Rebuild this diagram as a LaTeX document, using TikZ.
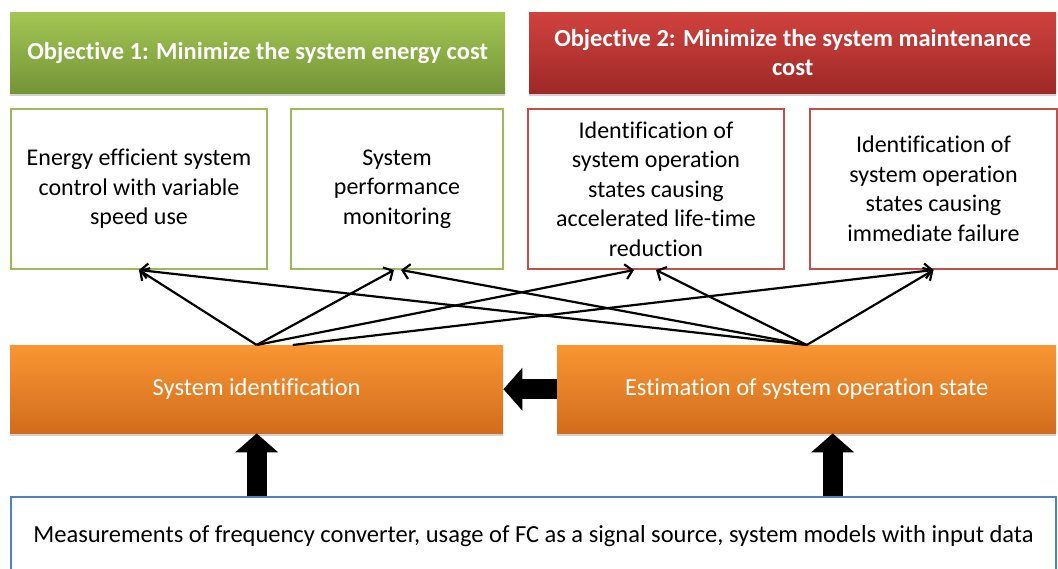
\documentclass[tikz,border=0pt]{standalone}
\usepackage{fontspec}
\setmainfont{Carlito}[Ligatures=NoCommon]
\usepackage{xcolor}
\usepackage{tikz}
\usetikzlibrary{shapes,arrows.meta}
\usetikzlibrary{positioning}
\usetikzlibrary{shadows}
\definecolor{greentop}{RGB}{163,198,84}
\definecolor{greenbot}{RGB}{116,148,55}
\definecolor{redtop}{RGB}{208,66,62}
\definecolor{redbot}{RGB}{158,40,38}
\definecolor{orangetop}{RGB}{249,150,50}
\definecolor{orangebot}{RGB}{210,108,30}
\definecolor{greenline}{RGB}{155,187,89}
\definecolor{redline}{RGB}{192,80,77}
\definecolor{blueline}{RGB}{79,129,189}
\tikzstyle{objective} = [rectangle, anchor=north west, text=white, align=center,
    font=\bfseries\fontsize{24.5}{29}\selectfont, minimum height=81pt,
    drop shadow={shadow xshift=0pt, shadow yshift=-2.5pt, fill=black!30, opacity=.6}]
\tikzstyle{goal} = [rectangle, draw, line width=2pt, fill=white, align=center,
    font=\fontsize{24}{29.5}\selectfont, minimum height=160pt]
\tikzstyle{method} = [rectangle, anchor=north west, text=white,
    top color=orangetop, bottom color=orangebot,
    font=\fontsize{24.5}{29}\selectfont, minimum height=88pt,
    drop shadow={shadow xshift=0pt, shadow yshift=-2.5pt, fill=black!30, opacity=.6}]
\tikzstyle{source} = [rectangle, anchor=north west, draw=blueline, line width=2pt,
    fill=white, font=\fontsize{24.5}{29}\selectfont, minimum height=79pt]
\tikzstyle{line} = [draw, line width=2.2pt, -{Straight Barb[length=7pt,width=15pt]}]
\tikzstyle{fat} = [draw, line width=20pt, -{Triangle[length=19pt,width=42pt]}]

\begin{document}
\begin{tikzpicture}[x=1pt, y=1pt]
  \useasboundingbox (0,0) rectangle (1058,-569);
  % Objectives
  \node [objective, top color=greentop, bottom color=greenbot, minimum width=495pt]
    (obj1) at (10,-12) {Objective 1: Minimize the system energy cost};
  \node [objective, top color=redtop, bottom color=redbot, minimum width=527pt]
    (obj2) at (529,-12) {Objective 2: Minimize the system maintenance\\cost};

  % Tasks
  \node [goal, draw=greenline, anchor=north west, minimum width=256pt] (box1) at (10,-108)
    {Energy efficient system\\control with variable\\speed use};
  \node [goal, draw=greenline, minimum width=212pt, right=22pt of box1] (box2)
    {System\\performance\\monitoring};
  \node [goal, draw=redline, minimum width=256pt, right=23pt of box2] (box3)
    {Identification of\\system operation\\states causing\\accelerated life-time\\reduction};
  \node [goal, draw=redline, minimum width=247pt, right=24pt of box3] (box4)
    {Identification of\\system operation\\states causing\\immediate failure};

  % Methods
  \node [method, minimum width=493pt] (sysid) at (10,-345) {System identification};
  \node [method, minimum width=499pt] (est) at (557,-345) {Estimation of system operation state};

  % Input data
  \node [source, minimum width=1045pt] (meas) at (10,-496)
    {Measurements of frequency converter, usage of FC as a signal source, system models with input data};

  % Thin arrows
  \coordinate (sysid2) at ([xshift=36pt]sysid.north);
  \path [line] (sysid.north) -- (box1.south);
  \path [line] (sysid.north) -- ([xshift=-3pt]box2.south);
  \path [line] (sysid.north) -- ([xshift=-22pt]box3.south);
  \path [line] (sysid2) -- (box4.south);
  \path [line] (est.north) -- (box1.south);
  \path [line] (est.north) -- ([xshift=4pt]box2.south);
  \path [line] (est.north) -- (box3.south);
  \path [line] (est.north) -- (box4.south);

  % Block arrows
  \coordinate (estin) at ([xshift=26pt]est.south);
  \path [fat] (est.west) -- (sysid.east);
  \path [fat] (meas.north -| sysid.south) -- (sysid.south);
  \path [fat] (meas.north -| estin) -- (estin);
\end{tikzpicture}
\end{document}
